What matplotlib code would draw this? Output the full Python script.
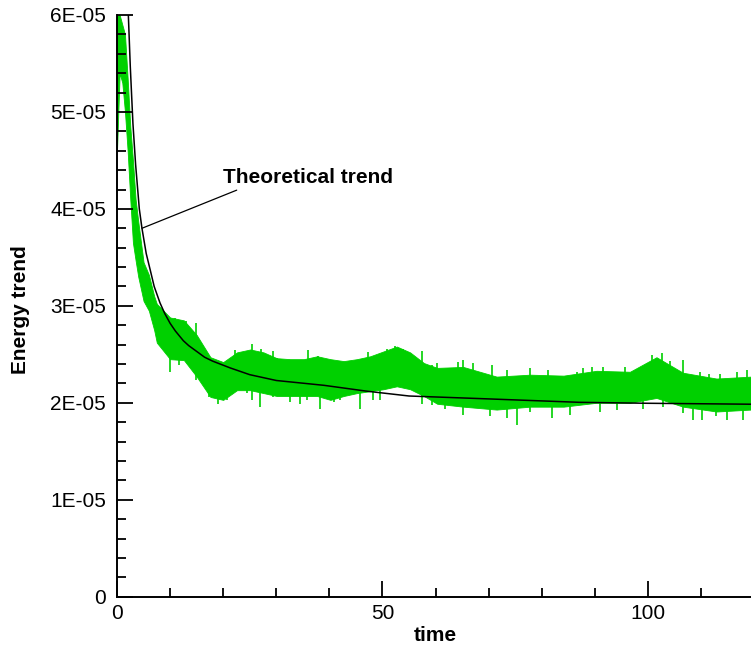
import matplotlib
matplotlib.use('Agg')
import matplotlib.pyplot as plt
import numpy as np

plt.rcParams['font.family'] = ['Liberation Sans', 'DejaVu Sans']

# Values are in units of 1E-05.
scale = 1e-5

# theoretical trend (black curve)
theory_t = [2.1, 2.5, 3.0, 3.5, 4.2, 4.7, 5.5, 6.3, 7.0, 8.1, 9.0, 10, 11, 12.5, 13.5,
            15, 16.5, 18, 21.3, 25, 30, 39, 47, 55, 70, 87, 100, 120]
theory_y = [6.05, 5.47, 4.88, 4.46, 4.0, 3.8, 3.54, 3.36, 3.20, 3.03, 2.92, 2.82, 2.74,
            2.64, 2.59, 2.53, 2.47, 2.43, 2.36, 2.29, 2.23, 2.18, 2.12, 2.07, 2.04,
            2.005, 1.995, 1.985]

# measured energy (green), dense part of the band: upper and lower edge
energy_t = [0, 0.5, 1, 1.5, 2, 2.5, 3, 3.5, 4, 5, 6, 7, 7.5, 10, 12.6, 15, 17.6, 20,
            22.6, 25.1, 27.6, 30.1, 32.6, 35.2, 37.7, 40.2, 42.7, 45.2, 47.7, 50.2,
            52.7, 55.2, 57.8, 60.3, 65.2, 71.5, 77.8, 84.1, 90.3, 96.6, 101.6, 106.6,
            112.9, 119.4]
energy_hi = [6.0, 6.0, 5.9, 5.8, 5.35, 4.85, 4.5, 4.1, 3.87, 3.45, 3.32, 3.1, 3.02,
             2.88, 2.85, 2.70, 2.47, 2.42, 2.52, 2.55, 2.52, 2.46, 2.45, 2.45, 2.48,
             2.45, 2.43, 2.45, 2.48, 2.53, 2.58, 2.52, 2.41, 2.36, 2.37, 2.27, 2.29,
             2.28, 2.33, 2.32, 2.47, 2.31, 2.25, 2.27]
energy_lo = [4.6, 5.4, 5.3, 5.0, 4.6, 4.1, 3.65, 3.47, 3.3, 3.05, 2.95, 2.75, 2.62,
             2.45, 2.44, 2.27, 2.06, 2.03, 2.13, 2.13, 2.10, 2.07, 2.07, 2.07, 2.07,
             2.03, 2.07, 2.10, 2.12, 2.14, 2.17, 2.14, 2.07, 1.99, 1.96, 1.93, 1.96,
             1.96, 2.00, 2.00, 2.05, 1.96, 1.91, 1.93]

# single spikes sticking out of the band (time, tip value)
spike_up_t = [11.0, 12.9, 14.8, 22.3, 25.4, 27.2, 29.4, 30.1, 32.0, 36.0, 37.9, 39.8,
              42.3, 47.3, 50.8, 52.4, 53.9, 57.4, 59.3, 60.2, 64.3, 65.2, 67.1, 70.6,
              73.4, 77.8, 81.2, 86.6, 87.8, 89.4, 91.6, 95.7, 98.8, 100.7, 102.6,
              104.1, 106.6, 109.8, 111.4, 113.6, 116.7, 118.6]
spike_up_y = [2.87, 2.84, 2.82, 2.54, 2.61, 2.55, 2.53, 2.46, 2.42, 2.54, 2.48, 2.42,
              2.39, 2.52, 2.55, 2.59, 2.55, 2.53, 2.39, 2.41, 2.42, 2.44, 2.41, 2.39,
              2.34, 2.36, 2.34, 2.32, 2.36, 2.37, 2.37, 2.37, 2.34, 2.49, 2.51, 2.43,
              2.44, 2.32, 2.30, 2.30, 2.32, 2.34]
spike_dn_t = [10.0, 11.6, 14.8, 17.3, 19.1, 20.7, 24.4, 25.4, 26.9, 29.4, 32.6, 34.5,
              35.7, 38.2, 40.8, 42.0, 45.8, 48.3, 49.5, 57.4, 59.3, 61.8, 65.2, 67.1,
              70.2, 73.4, 75.3, 77.8, 81.9, 85.3, 91.0, 94.1, 99.1, 102.9, 106.6,
              108.5, 110.1, 112.9, 114.8, 117.9]
spike_dn_y = [2.32, 2.39, 2.24, 2.06, 1.99, 2.03, 2.10, 2.03, 1.96, 2.06, 2.01, 1.99,
              2.03, 1.94, 2.01, 2.03, 1.94, 2.03, 2.03, 1.99, 1.98, 1.94, 1.87, 1.96,
              1.86, 1.84, 1.77, 1.91, 1.84, 1.87, 1.91, 1.93, 1.94, 1.96, 1.89, 1.82,
              1.82, 1.86, 1.82, 1.82]

y_ticks = [0, 1, 2, 3, 4, 5, 6]
y_tick_labels = ['0', '1E-05', '2E-05', '3E-05', '4E-05', '5E-05', '6E-05']
x_ticks = [0, 50, 100]

fig = plt.figure(figsize=(7.51, 6.49), dpi=100)
ax = fig.add_axes([0.1558, 0.0806, 0.8442, 0.8963])

green = '#00d000'
lo = np.array(energy_lo)
hi = np.array(energy_hi)
ax.fill_between(energy_t, lo * scale, hi * scale, color=green, linewidth=0.6,
                edgecolor=green)
mid = (lo + hi) / 2
base_up = np.interp(spike_up_t, energy_t, mid)
base_dn = np.interp(spike_dn_t, energy_t, mid)
ax.vlines(spike_up_t, base_up * scale, np.array(spike_up_y) * scale, color=green, lw=1.2)
ax.vlines(spike_dn_t, base_dn * scale, np.array(spike_dn_y) * scale, color=green, lw=1.2)

ax.plot(theory_t, np.array(theory_y) * scale, color='black', lw=1.1)

ax.annotate('Theoretical trend', xy=(4.7, 3.8 * scale), xytext=(20, 4.32 * scale),
            fontsize=15, fontweight='bold', ha='left', va='center',
            arrowprops=dict(arrowstyle='-', color='black', lw=0.9,
                            shrinkA=0, shrinkB=0, relpos=(0.12, 0.0)))

ax.set_xlim(0, 119.4)
ax.set_ylim(0, 6 * scale)
ax.set_xticks(x_ticks)
ax.set_xticks(np.arange(0, 120, 10), minor=True)
ax.set_yticks([v * scale for v in y_ticks])
ax.set_yticklabels(y_tick_labels)
ax.set_yticks(np.arange(0, 6.01, 0.2) * scale, minor=True)

for side in ['top', 'right']:
    ax.spines[side].set_visible(False)
for side in ['left', 'bottom']:
    ax.spines[side].set_linewidth(1.4)

ax.tick_params(which='major', direction='in', length=11.3, width=1.3,
               labelsize=15, pad=8)
ax.tick_params(which='minor', direction='in', length=6.5, width=1.3)
ax.tick_params(axis='x', which='major', pad=5)

ax.set_xlabel('time', fontsize=15, fontweight='bold')
ax.set_ylabel('Energy trend', fontsize=15, fontweight='bold')
ax.xaxis.set_label_coords(0.5016, -0.05)
ax.yaxis.set_label_coords(-0.137, 0.493)

fig.savefig('out.png', dpi=100)
